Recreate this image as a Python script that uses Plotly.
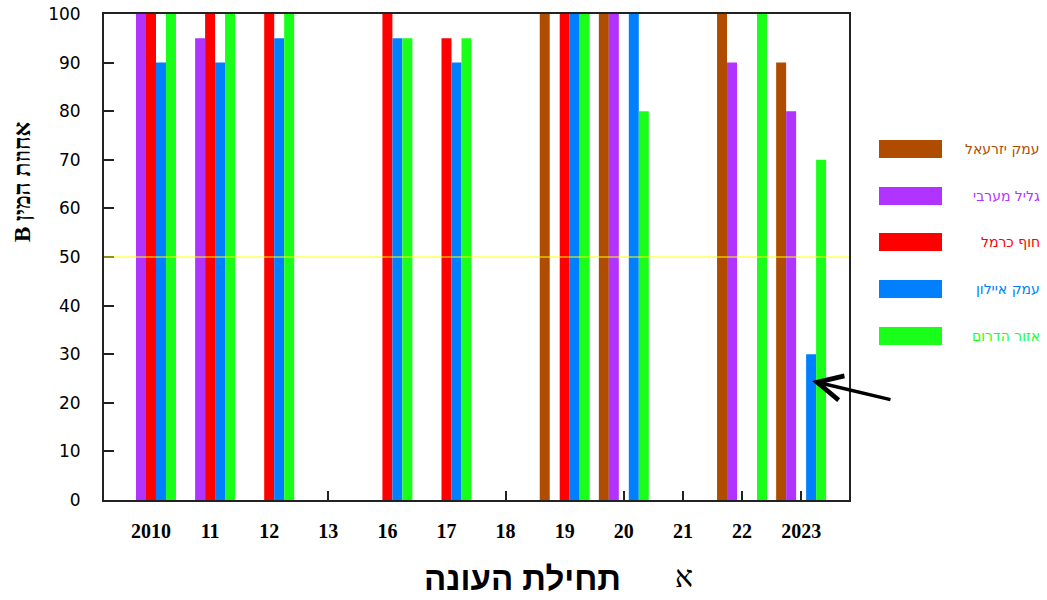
import plotly.graph_objects as go

categories = ["2010", "11", "12", "13", "16", "17", "18", "19", "20", "21", "22", "2023"]

series_names = ["עמק יזרעאל", "גליל מערבי", "חוף כרמל", "עמק איילון", "אזור הדרום"]
series_colors = ["#B04C00", "#B033FF", "#FF0000", "#0080FF", "#1AFF1A"]

emek_yizrael = [None, None, None, None, None, None, None, 100, 100, None, 100, 90]
galil_maaravi = [100, 95, None, None, None, None, None, None, 100, None, 90, 80]
hof_carmel = [100, 100, 100, None, 100, 95, None, 100, None, None, None, None]
emek_ayalon = [90, 90, 95, None, 95, 90, None, 100, 100, None, None, 30]
ezor_hadarom = [100, 100, 100, None, 95, 95, None, 100, 80, None, 100, 70]

series_values = [emek_yizrael, galil_maaravi, hof_carmel, emek_ayalon, ezor_hadarom]

y_ticks = [0, 10, 20, 30, 40, 50, 60, 70, 80, 90, 100]
threshold = 50

fig = go.Figure()
for name, color, vals in zip(series_names, series_colors, series_values):
    fig.add_trace(go.Bar(x=categories, y=vals, name=name, marker_color=color,
                         marker_line_width=0, showlegend=False, hoverinfo="skip"))

W, H = 1047, 600
L, R, T, B = 104, 198, 14, 100
pw = W - L - R
ph = H - T - B

def px_x(p):
    return (p - L) / pw

def px_y(p):
    return (H - B - p) / ph

fig.update_layout(
    width=W, height=H,
    margin=dict(l=L, r=R, t=T, b=B, autoexpand=False),
    paper_bgcolor="white", plot_bgcolor="white",
    barmode="group", bargap=0.155, bargroupgap=0,
    xaxis=dict(type="category", range=[-0.795, 11.81], showline=True, linecolor="#222",
               linewidth=2, mirror=True, ticks="inside", ticklen=9, tickcolor="#222",
               tickwidth=1.5, showgrid=False, layer="below traces", automargin=False,
               tickfont=dict(family="Liberation Serif", size=20, color="black", weight="bold"),
               ticklabelstandoff=12),
    yaxis=dict(range=[0, 100], tickvals=y_ticks, showline=True, linecolor="#222",
               linewidth=2, mirror=True, ticks="inside", ticklen=10, tickcolor="#222",
               tickwidth=1.5, showgrid=False, zeroline=False, automargin=False,
               tickfont=dict(family="DejaVu Sans", size=17, color="black"),
               ticklabelstandoff=18),
)

# threshold line
fig.add_shape(type="line", xref="paper", yref="y", x0=0, x1=1, y0=threshold, y1=threshold,
              line=dict(color="#FFFF00", width=1), layer="above")

# custom legend
legend_y = [149, 196, 242, 289, 336]
for name, color, cy in zip(series_names, series_colors, legend_y):
    fig.add_shape(type="rect", xref="paper", yref="paper",
                  x0=px_x(879), x1=px_x(942), y0=px_y(cy + 9), y1=px_y(cy - 9),
                  fillcolor=color, line=dict(width=0))
    fig.add_annotation(xref="paper", yref="paper", x=px_x(1042), y=px_y(cy),
                       text=name, showarrow=False, xanchor="right", yanchor="middle",
                       font=dict(family="DejaVu Sans", size=14, color=color))

# axis titles
fig.add_annotation(xref="paper", yref="paper", x=px_x(522), y=px_y(578),
                   text="<b>תחילת העונה</b>", showarrow=False, xanchor="center", yanchor="middle",
                   font=dict(family="Liberation Sans", size=33, color="black"))
fig.add_annotation(xref="paper", yref="paper", x=px_x(22), y=px_y(182),
                   text="<b>\u202bאחוזת המין B\u202c</b>", showarrow=False, textangle=-90,
                   xanchor="center", yanchor="middle",
                   font=dict(family="Liberation Serif", size=23, color="black"))
fig.add_annotation(xref="paper", yref="paper", x=px_x(684), y=px_y(576),
                   text="א", showarrow=False, xanchor="center", yanchor="middle",
                   font=dict(family="Liberation Serif", size=30, color="black"))

# arrow
fig.add_annotation(xref="paper", yref="paper", x=px_x(812), y=px_y(381),
                   ax=80, ay=19, axref="pixel", ayref="pixel", text="",
                   showarrow=True, arrowhead=5, arrowsize=1.4, arrowwidth=3.5,
                   arrowcolor="black")

fig.write_html("out.html", config={"displayModeBar": False},
               post_script="document.body.style.margin='0';document.body.style.padding='0';"
                           "document.documentElement.style.overflow='hidden';")
